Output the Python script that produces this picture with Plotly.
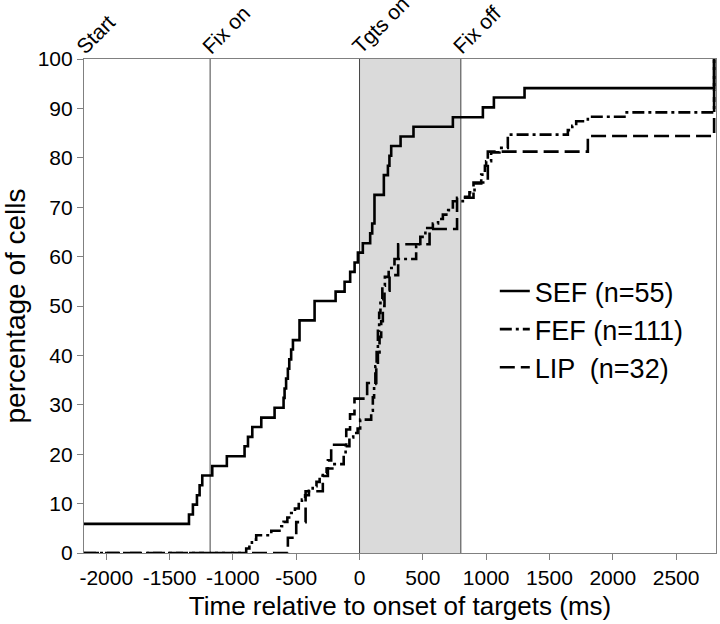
import plotly.graph_objects as go

# ---- data ----
sef_x = [-2176, -1347, -1316, -1284, -1263, -1242, -1163, -1048, -908, -881, -847, -776, -671,
         -600, -592, -580, -566, -555, -540, -526, -474, -355, -189, -118, -74, -39, -13, 26, 84,
         100, 118, 192, 224, 236, 250, 324, 426, 737, 974, 1061, 1303, 2800, 2800]
sef_y = [5.9, 7.8, 9.8, 11.7, 13.7, 15.7, 17.6, 19.6, 21.6, 23.5, 25.5, 27.4, 29.4,
         31.4, 33.3, 35.3, 37.3, 39.2, 41.2, 43.1, 47.1, 51.0, 52.9, 54.9, 56.9, 58.8, 60.8, 62.7, 64.7,
         66.7, 72.5, 76.5, 78.4, 80.4, 82.4, 84.3, 86.3, 88.2, 90.2, 92.2, 94.1, 94.1, 100]

fef_x = [-2176, -895, -870, -850, -816, -697, -618, -600, -570, -540, -510, -480, -455, -430, -400,
         -370, -340, -315, -290, -260, -215, -125, -110, -80, -50, -15, 5, 92, 105, 115, 125, 135,
         145, 155, 165, 180, 200, 230, 276, 447, 480, 520, 579, 620, 658, 700, 737, 816, 868, 908,
         961, 990, 1000, 1039, 1105, 1171, 1645, 1680, 1711, 1803, 2092, 2800, 2800]
fef_y = [0, 0.9, 1.8, 2.7, 3.6, 4.5, 5.4, 6.3, 7.2, 8.1, 9.0, 9.9, 10.8, 11.7, 12.6,
         13.5, 14.4, 15.3, 16.2, 17.1, 18.0, 19.8, 21.6, 23.4, 24.3, 25.2, 27.0, 28.8, 31.5, 34.2, 37.8, 41.4,
         45.0, 48.6, 51.4, 54.1, 55.9, 57.7, 59.5, 62.2, 64.0, 65.8, 66.7, 67.6, 68.5, 69.4, 71.2, 72.1, 73.0, 74.8,
         76.6, 78.4, 79.3, 81.1, 82.0, 84.7, 85.6, 86.5, 87.4, 88.3, 89.2, 89.2, 100]

lip_x = [-2176, -566, -500, -426, -290, -250, -224, -105, -75, -40, 60, 132, 145, 158, 171, 184,
         197, 237, 305, 553, 770, 900, 1013, 1803, 2800, 2800]
lip_y = [0, 3.1, 6.25, 12.5, 15.6, 18.75, 21.9, 25.0, 28.1, 31.25, 34.4, 37.5, 40.6, 43.75, 46.9, 50.0,
         53.1, 56.25, 62.5, 65.6, 71.9, 75.0, 81.25, 84.4, 84.4, 100]

series_names = ["SEF (n=55)", "FEF (n=111)", "LIP  (n=32)"]

event_x = [-2176, -1180, 0, 800]
event_labels = ["Start", "Fix on", "Tgts on", "Fix off"]
event_lines = [-1180, 0, 800]
shade_x = [0, 800]

x_ticks = [-2000, -1500, -1000, -500, 0, 500, 1000, 1500, 2000, 2500]
x_ticktext = ["-2000", "-1500", "-1000", "-500", "0", "500", "1000", "1500", "2000", "2500"]
y_ticks = [0, 10, 20, 30, 40, 50, 60, 70, 80, 90, 100]

x_range = [-2176, 2815]
y_range = [0, 100]

FONT = "Liberation Sans, Arial, sans-serif"

fig = go.Figure()
fig.add_trace(go.Scatter(x=sef_x, y=sef_y, mode="lines", name=series_names[0], cliponaxis=False,
                         line=dict(color="black", width=2.6, shape="hv")))
fig.add_trace(go.Scatter(x=fef_x, y=fef_y, mode="lines", name=series_names[1], cliponaxis=False,
                         line=dict(color="black", width=2.6, shape="hv", dash="12px,4px,3px,4px")))
fig.add_trace(go.Scatter(x=lip_x, y=lip_y, mode="lines", name=series_names[2], cliponaxis=False,
                         line=dict(color="black", width=2.6, shape="hv", dash="15px,6px")))

fig.add_shape(type="rect", xref="x", yref="paper", x0=shade_x[0], x1=shade_x[1], y0=0, y1=1,
              fillcolor="#dadada", line=dict(width=0), layer="below")
for xv in event_lines:
    fig.add_shape(type="line", xref="x", yref="paper", x0=xv, x1=xv, y0=0, y1=1,
                  line=dict(color="#444444", width=1), layer="below")

for xv, lab in zip(event_x, event_labels):
    fig.add_annotation(x=xv, y=1, xref="x", yref="paper", text=lab, showarrow=False,
                       textangle=-45, xanchor="center", yanchor="middle", width=92, align="left",
                       xshift=28, yshift=42,
                       font=dict(family=FONT, size=21, color="black"))

fig.update_xaxes(range=x_range, tickvals=x_ticks, ticktext=x_ticktext, ticks="outside",
                 ticklen=6, tickcolor="#808080", showline=True, linecolor="#808080", linewidth=1.2,
                 mirror=True, showgrid=False, zeroline=False, automargin=False,
                 tickfont=dict(family=FONT, size=21, color="black"),
                 title=dict(text="Time relative to onset of targets (ms)", standoff=8,
                            font=dict(family=FONT, size=26, color="black")))
fig.update_yaxes(range=y_range, tickvals=y_ticks, ticks="outside", ticklen=6, tickcolor="#808080",
                 showline=True, linecolor="#808080", linewidth=1.2, mirror=True, showgrid=False,
                 zeroline=False, automargin=False, tickfont=dict(family=FONT, size=21, color="black"),
                 title=dict(text="percentage of cells", standoff=6,
                            font=dict(family=FONT, size=28, color="black")))

fig.update_layout(
    width=720, height=624,
    margin=dict(l=84, r=4, t=59, b=71, autoexpand=False),
    plot_bgcolor="white", paper_bgcolor="white",
    legend=dict(x=0.65, y=0.579, xanchor="left", yanchor="top", bgcolor="rgba(0,0,0,0)",
                font=dict(family=FONT, size=27, color="black"), tracegroupgap=0),
    showlegend=True,
)

fig.write_html(
    "out.html",
    config={"displayModeBar": False},
    post_script="document.body.style.margin='0px';document.documentElement.style.overflow='hidden';",
)
